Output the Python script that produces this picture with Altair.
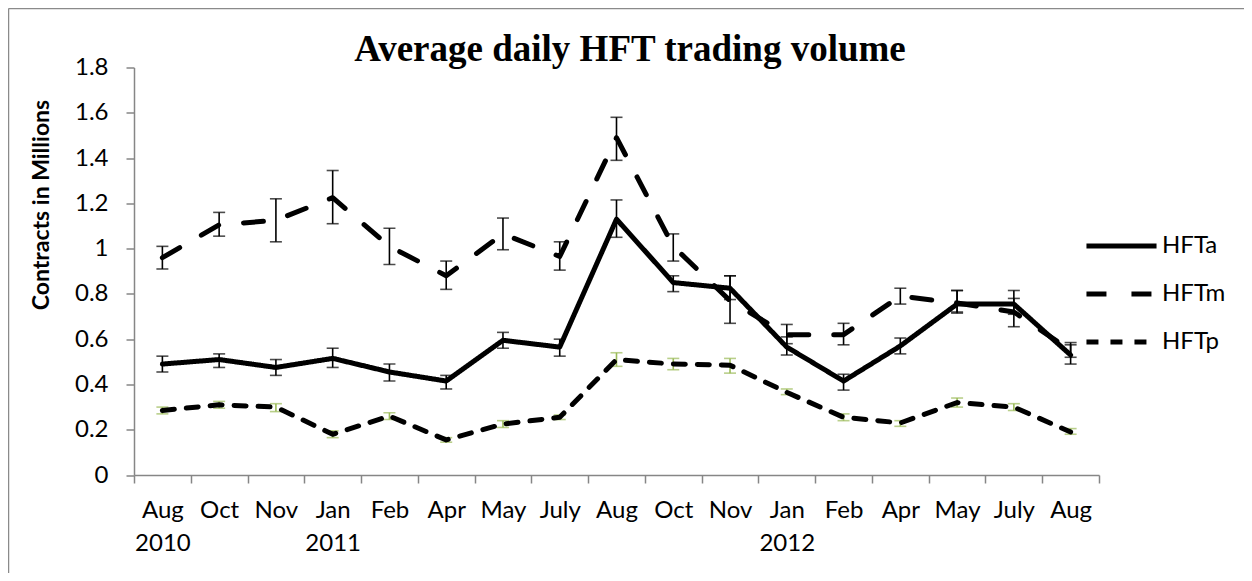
import json
import altair as alt
import pandas as pd

# ---------------- data ----------------
months = ["Aug", "Oct", "Nov", "Jan", "Feb", "Apr", "May", "July", "Aug",
          "Oct", "Nov", "Jan", "Feb", "Apr", "May", "July", "Aug"]
years = ["2010", "", "", "2011", "", "", "", "", "",
         "", "", "2012", "", "", "", "", ""]

series = ["HFTa", "HFTm", "HFTp"]

hfta = [0.49, 0.51, 0.475, 0.515, 0.455, 0.415, 0.595, 0.565, 1.13,
        0.85, 0.825, 0.565, 0.415, 0.57, 0.755, 0.755, 0.53]
hfta_lo = [0.455, 0.475, 0.44, 0.475, 0.415, 0.38, 0.56, 0.525, 1.05,
           0.81, 0.775, 0.53, 0.375, 0.535, 0.72, 0.71, 0.49]
hfta_hi = [0.525, 0.535, 0.51, 0.56, 0.49, 0.44, 0.63, 0.60, 1.215,
           0.88, 0.88, 0.61, 0.445, 0.605, 0.815, 0.815, 0.575]

hftm = [0.96, 1.105, 1.125, 1.225, 1.01, 0.88, 1.065, 0.965, 1.49,
        1.01, 0.77, 0.62, 0.62, 0.79, 0.76, 0.72, 0.55]
hftm_lo = [0.91, 1.055, 1.03, 1.11, 0.93, 0.82, 0.995, 0.905, 1.39,
           0.945, 0.67, 0.58, 0.575, 0.755, 0.715, 0.655, 0.52]
hftm_hi = [1.01, 1.16, 1.22, 1.345, 1.09, 0.945, 1.135, 1.03, 1.58,
           1.065, 0.88, 0.665, 0.67, 0.825, 0.815, 0.78, 0.585]

hftp = [0.285, 0.31, 0.30, 0.18, 0.26, 0.155, 0.225, 0.255, 0.51,
        0.49, 0.485, 0.365, 0.255, 0.23, 0.32, 0.30, 0.19]
hftp_lo = [0.27, 0.295, 0.28, 0.165, 0.245, 0.145, 0.21, 0.245, 0.48,
           0.465, 0.45, 0.355, 0.24, 0.215, 0.30, 0.285, 0.18]
hftp_hi = [0.30, 0.325, 0.315, 0.195, 0.275, 0.165, 0.24, 0.265, 0.54,
           0.515, 0.515, 0.38, 0.27, 0.24, 0.34, 0.315, 0.205]

y_ticks = [0, 0.2, 0.4, 0.6, 0.8, 1.0, 1.2, 1.4, 1.6, 1.8]
title_text = "Average daily HFT trading volume"
y_title = "Contracts in Millions"

# ---------------- table ----------------
rows = []
for name, vals, los, his in [("HFTa", hfta, hfta_lo, hfta_hi),
                             ("HFTm", hftm, hftm_lo, hftm_hi),
                             ("HFTp", hftp, hftp_lo, hftp_hi)]:
    for i, (v, lo, hi) in enumerate(zip(vals, los, his)):
        rows.append({"series": name, "idx": i, "value": v, "lo": lo, "hi": hi})
df = pd.DataFrame(rows)

n = len(months)
x_values = [i * 0.5 - 0.5 for i in range(2 * n + 1)]
mj = json.dumps(months)
yj = json.dumps(years)
label_expr = (f"datum.value % 1 != 0 ? '' : ({yj}[datum.value] != '' ? "
              f"[{mj}[datum.value], {yj}[datum.value]] : {mj}[datum.value])")

AX = "#868686"
FONT = "Lato"

x_axis = alt.Axis(values=x_values, labelExpr=label_expr, title=None, grid=False,
                  domainColor=AX, domainWidth=1.5, tickColor=AX, tickWidth=1.5,
                  tickSize=8,
                  tickOpacity={"condition": {"test": "datum.value % 1 == 0", "value": 0},
                               "value": 1},
                  labelFont=FONT, labelFontSize=24, labelColor="black",
                  labelPadding=15, labelBaseline="top", labelLineHeight=33,
                  labelOverlap=False, labelFlush=False)
y_axis = alt.Axis(values=y_ticks, format=".1~f", title=y_title, grid=False,
                  domainColor=AX, domainWidth=1.5, tickColor=AX, tickWidth=1.5,
                  tickSize=8, labelFont=FONT, labelFontSize=24, labelColor="black",
                  labelPadding=18,
                  titleFont=FONT, titleFontSize=23, titleFontWeight="bold",
                  titleColor="black", titleAngle=270, titleX=-93, titleY=137,
                  titleAlign="center", titleBaseline="middle")

x_scale = alt.Scale(domain=[-0.5, n - 0.5], nice=False, zero=False)
y_scale = alt.Scale(domain=[0, 1.8], nice=False)

X = alt.X("idx:Q", scale=x_scale, axis=x_axis)


def Y(field):
    return alt.Y(f"{field}:Q", scale=y_scale, axis=y_axis)


base = alt.Chart(df)


def error_bars(test, color):
    sub = base.transform_filter(test)
    rule = sub.mark_rule(strokeWidth=1.6, color=color).encode(
        x=X, y=Y("lo"), y2="hi:Q")
    lo = sub.mark_tick(orient="horizontal", size=12, thickness=1.6,
                       color=color).encode(x=X, y=Y("lo"))
    hi = sub.mark_tick(orient="horizontal", size=12, thickness=1.6,
                       color=color).encode(x=X, y=Y("hi"))
    return [rule, lo, hi]


err_black = error_bars("datum.series != 'HFTp'", "black")
err_green = error_bars("datum.series == 'HFTp'", "#9BBB59")

# legend symbol: a horizontal stroke ~70px long
lines = base.mark_line(strokeWidth=5, color="black", strokeCap="round",
                       strokeJoin="round").encode(
    x=X, y=Y("value"),
    strokeDash=alt.StrokeDash(
        "series:N",
        scale=alt.Scale(domain=series, range=[[1, 0], [20, 25], [12, 12]]),
        legend=alt.Legend(title=None, orient="none", legendX=961, legendY=152,
                          symbolType="M-1.46,0H1.46", symbolSize=2304,
                          symbolStrokeWidth=5, symbolStrokeColor="black",
                          symbolFillColor="transparent",
                          labelFont=FONT, labelFontSize=24, labelColor="black",
                          labelOffset=14, rowPadding=9)))

one = pd.DataFrame({"t": [title_text]})
title_mark = alt.Chart(one).mark_text(
    font="Liberation Serif", fontSize=37, fontWeight="bold", color="black",
    align="center", baseline="alphabetic").encode(
    text="t:N", x=alt.value(496), y=alt.value(-6.5))

frame_left = alt.Chart(one).mark_rule(color="#8a8a8a", strokeWidth=1.5).encode(
    x=alt.value(-125.5), y=alt.value(-59), y2=alt.value(600))
frame_top = alt.Chart(one).mark_rule(color="#8a8a8a", strokeWidth=1.5).encode(
    x=alt.value(-125.5), x2=alt.value(1200), y=alt.value(-59))

chart = alt.layer(frame_left, frame_top, title_mark, *err_black, *err_green,
                  lines).properties(
    width=965, height=407.5,
    autosize=alt.AutoSizeParams(type="none"),
    padding={"left": 126, "top": 59.5, "right": 145, "bottom": 98},
).configure_view(stroke=None)

chart.save("out.html", embed_options={"renderer": "svg", "actions": False})
